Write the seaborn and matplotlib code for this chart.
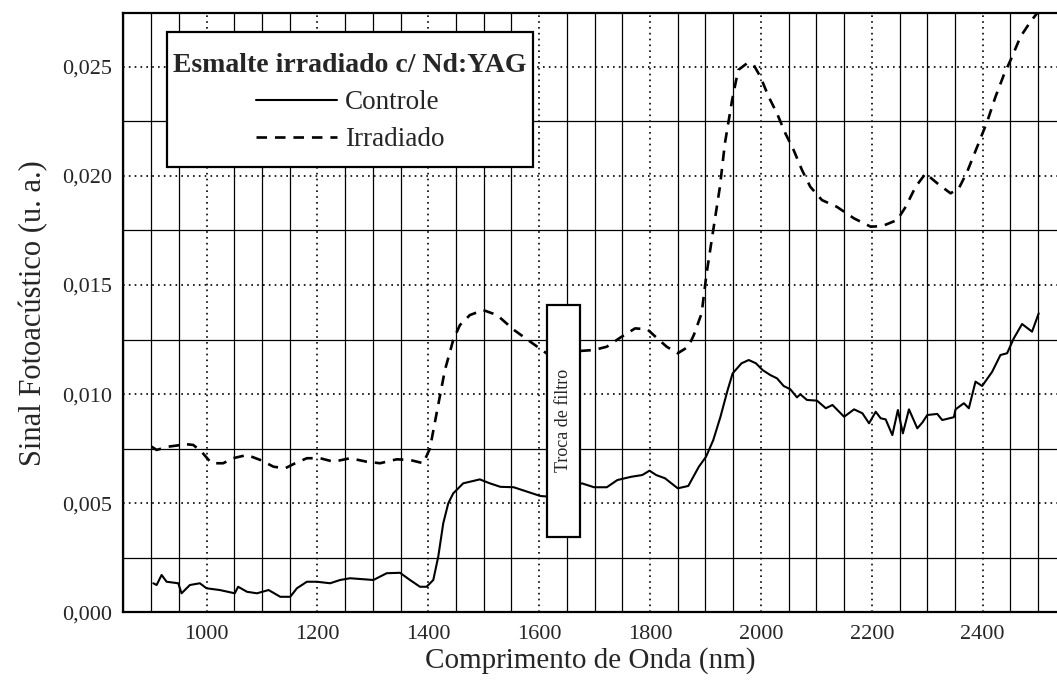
import matplotlib
matplotlib.use('Agg')
import matplotlib.pyplot as plt
from matplotlib.patches import Rectangle
from matplotlib.ticker import MultipleLocator, FuncFormatter
import numpy as np
import pandas as pd
import seaborn as sns

# wavelength (nm) / signal (u. a.)
controle_x = [904, 910, 919, 928, 949, 955, 970, 988, 1000, 1024, 1051, 1057, 1073, 1091,
              1112, 1133, 1151, 1163, 1181, 1199, 1223, 1241, 1259, 1301, 1325, 1349, 1367,
              1385, 1397, 1409, 1418, 1427, 1436, 1445, 1463, 1493, 1511, 1530, 1554, 1578,
              1602, 1617, 1677, 1699, 1722, 1741, 1766, 1786, 1799, 1811, 1827, 1850, 1869,
              1888, 1901, 1914, 1927, 1940, 1949, 1965, 1978, 1991, 2003, 2017, 2029, 2041,
              2053, 2065, 2071, 2083, 2101, 2117, 2129, 2150, 2168, 2183, 2195, 2207, 2216,
              2225, 2237, 2247, 2256, 2267, 2282, 2291, 2300, 2318, 2327, 2348, 2351, 2366,
              2375, 2387, 2399, 2417, 2432, 2444, 2456, 2471, 2489, 2501]
controle_y = [0.00133, 0.00125, 0.00171, 0.00140, 0.00133, 0.00087, 0.00125, 0.00133, 0.00110,
              0.00102, 0.00087, 0.00117, 0.00094, 0.00087, 0.00102, 0.00071, 0.00071, 0.00110,
              0.00140, 0.00140, 0.00133, 0.00148, 0.00156, 0.00148, 0.00179, 0.00181, 0.00148,
              0.00117, 0.00117, 0.00148, 0.00255, 0.00408, 0.00499, 0.00545, 0.00591, 0.00609,
              0.00591, 0.00575, 0.00573, 0.00553, 0.00533, 0.00530, 0.00591, 0.00573, 0.00573,
              0.00606, 0.00621, 0.00629, 0.00649, 0.00629, 0.00614, 0.00568, 0.00579, 0.00667,
              0.00713, 0.00789, 0.00896, 0.01019, 0.01095, 0.01141, 0.01156, 0.01141, 0.01110,
              0.01087, 0.01072, 0.01037, 0.01022, 0.00985, 0.00999, 0.00973, 0.00970, 0.00935,
              0.00950, 0.00896, 0.00930, 0.00912, 0.00866, 0.00919, 0.00889, 0.00884, 0.00812,
              0.00927, 0.00820, 0.00930, 0.00843, 0.00869, 0.00904, 0.00909, 0.00881, 0.00894,
              0.00930, 0.00958, 0.00935, 0.01057, 0.01037, 0.01102, 0.01179, 0.01187, 0.01255,
              0.01321, 0.01286, 0.01370]

irradiado_x = [901, 910, 931, 964, 976, 991, 1009, 1030, 1048, 1073, 1097, 1121, 1142, 1160,
               1181, 1205, 1229, 1259, 1289, 1313, 1343, 1367, 1391, 1403, 1415, 1430, 1445,
               1457, 1475, 1499, 1524, 1555, 1584, 1613, 1699, 1722, 1747, 1773, 1795, 1811,
               1830, 1850, 1869, 1879, 1893, 1902, 1914, 1926, 1935, 1948, 1959, 1975, 1987,
               1999, 2014, 2029, 2044, 2059, 2074, 2089, 2110, 2137, 2168, 2198, 2219, 2246,
               2261, 2279, 2297, 2318, 2342, 2357, 2372, 2390, 2408, 2423, 2438, 2453, 2468,
               2486, 2498]
irradiado_y = [0.00759, 0.00744, 0.00759, 0.00770, 0.00767, 0.00736, 0.00683, 0.00683, 0.00706,
               0.00721, 0.00698, 0.00667, 0.00660, 0.00683, 0.00706, 0.00706, 0.00690, 0.00706,
               0.00690, 0.00683, 0.00701, 0.00698, 0.00683, 0.00751, 0.00912, 0.01110, 0.01248,
               0.01316, 0.01362, 0.01385, 0.01362, 0.01293, 0.01240, 0.01187, 0.01202, 0.01217,
               0.01260, 0.01301, 0.01297, 0.01260, 0.01217, 0.01187, 0.01217, 0.01271, 0.01370,
               0.01553, 0.01752, 0.01950, 0.02149, 0.02347, 0.02485, 0.02516, 0.02508, 0.02454,
               0.02362, 0.02286, 0.02195, 0.02118, 0.02027, 0.01950, 0.01889, 0.01858, 0.01805,
               0.01767, 0.01770, 0.01798, 0.01858, 0.01950, 0.02011, 0.01966, 0.01920, 0.01943,
               0.02019, 0.02133, 0.02248, 0.02362, 0.02462, 0.02546, 0.02637, 0.02706, 0.02745]

x_major = [1000, 1200, 1400, 1600, 1800, 2000, 2200, 2400]
y_major = [0.000, 0.005, 0.010, 0.015, 0.020, 0.025]

legend_title = 'Esmalte irradiado c/ Nd:YAG'
serie_names = ['Controle', 'Irradiado']
filter_note = 'Troca de filtro'
filter_span = [1614, 1673]
filter_levels = [0.00347, 0.01408]

sns.set_theme(style='white')
plt.rcParams['font.family'] = ['Liberation Serif', 'DejaVu Serif']

df_c = pd.DataFrame({'x': controle_x, 'y': controle_y})
df_i = pd.DataFrame({'x': irradiado_x, 'y': irradiado_y})

fig = plt.figure(figsize=(10.57, 6.81), dpi=100)
ax = fig.add_axes([0.1167, 0.1009, 0.8833, 0.8796])

sns.lineplot(data=df_c, x='x', y='y', ax=ax, color='black', linewidth=1.5,
             label=serie_names[0], zorder=3)
sns.lineplot(data=df_i, x='x', y='y', ax=ax, color='black', linewidth=1.9,
             linestyle=(0, (4, 3)), label=serie_names[1], zorder=3)

ax.set_xlim(850, 2534)
ax.set_ylim(0, 0.02745)

ax.set_xticks(x_major)
ax.set_yticks(y_major)
ax.xaxis.set_minor_locator(MultipleLocator(50))
ax.yaxis.set_minor_locator(MultipleLocator(0.0025))
ax.yaxis.set_major_formatter(FuncFormatter(lambda v, p: f'{v:.3f}'.replace('.', ',')))

ax.grid(which='major', color='black', linestyle=(0, (1, 2.5)), linewidth=1.2)
ax.grid(which='minor', color='black', linestyle='-', linewidth=0.9)
ax.set_axisbelow(True)

ax.tick_params(which='both', length=0)
ax.tick_params(axis='x', pad=9, labelsize=16)
ax.tick_params(axis='y', pad=8, labelsize=16)

for s in ['left', 'bottom', 'top']:
    ax.spines[s].set_color('black')
    ax.spines[s].set_linewidth(1.6)
ax.spines['right'].set_visible(False)

ax.set_xlabel('Comprimento de Onda (nm)', fontsize=21)
ax.set_ylabel('Sinal Fotoacústico (u. a.)', fontsize=22)
ax.xaxis.set_label_coords(0.5, -0.058)
ax.yaxis.set_label_coords(-0.081, 0.5)

# filter change marker
rect = Rectangle((filter_span[0], filter_levels[0]), filter_span[1] - filter_span[0],
                 filter_levels[1] - filter_levels[0], facecolor='white',
                 edgecolor='black', linewidth=1.6, zorder=5)
ax.add_patch(rect)
ax.text(np.mean(filter_span), np.mean(filter_levels), filter_note, rotation=90,
        ha='center', va='center', fontsize=13, zorder=6)

# legend box drawn separately so its size follows the scan
box = Rectangle((0.0468, 0.7434), 0.392, 0.2254, transform=ax.transAxes,
                facecolor='white', edgecolor='black', linewidth=1.6, zorder=6)
ax.add_patch(box)
leg = ax.legend(title=legend_title, loc='center', bbox_to_anchor=(0.2428, 0.851),
                frameon=False, fontsize=19.5,
                title_fontproperties={'weight': 'bold', 'size': 20},
                handlelength=3.0, handletextpad=0.3, labelspacing=0.46,
                borderpad=0, alignment='center', borderaxespad=0)
leg.set_zorder(7)

fig.savefig('out.png', dpi=100)
